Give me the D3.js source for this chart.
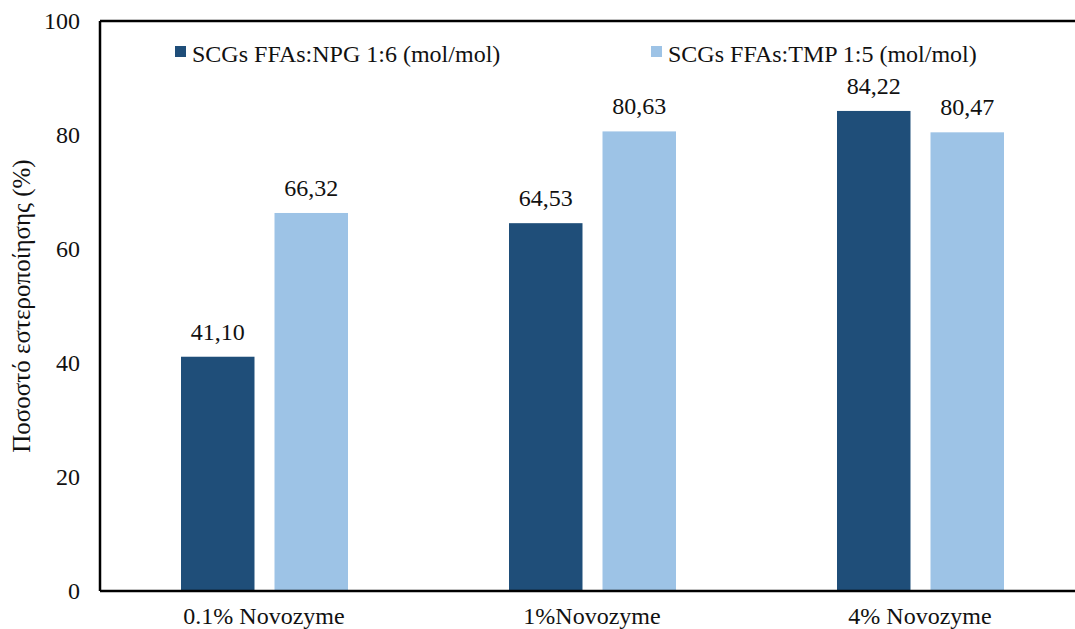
<!DOCTYPE html>
<html>
<head>
<meta charset="utf-8">
<script src="https://cdn.jsdelivr.net/npm/d3@7"></script>
<style>
  html, body { margin: 0; padding: 0; background: #fff; }
  svg { display: block; }
  svg text { font-family: 'Liberation Serif', 'Times New Roman', Times, serif !important; }
</style>
</head>
<body>
<svg id="chart" width="1075" height="629"></svg>
<script>
// Esterification yield per enzyme loading
const categories = ["0.1% Novozyme", "1%Novozyme", "4% Novozyme"];
const seriesNames = ["SCGs FFAs:NPG 1:6 (mol/mol)", "SCGs FFAs:TMP 1:5 (mol/mol)"];
const npgValues = [41.10, 64.53, 84.22];
const tmpValues = [66.32, 80.63, 80.47];
const yTicks = [0, 20, 40, 60, 80, 100];
const yTitle = "Ποσοστό εστεροποίησης (%)";

const colors = ["#1F4E79", "#9DC3E6"];
const serif = "'Liberation Serif', 'Times New Roman', serif";
const fontSize = 24;

const svg = d3.select("#chart");
const plotLeft = 100, plotTop = 21, plotBottom = 591, bandWidth = 328;
const plotRight = plotLeft + bandWidth * categories.length;

const x = d3.scaleBand().domain(categories).range([plotLeft, plotRight]).paddingInner(0).paddingOuter(0);
const inner = d3.scaleBand().domain([0, 1]).range([81, 248]).paddingInner(0.214).paddingOuter(0);
const y = d3.scaleLinear().domain([0, 100]).range([plotBottom, plotTop]);

const series = [npgValues, tmpValues];
const fmt = v => v.toFixed(2).replace(".", ",");

// bars and value labels
series.forEach((vals, si) => {
  const g = svg.append("g");
  g.selectAll("rect").data(vals).join("rect")
    .attr("x", (d, i) => x(categories[i]) + inner(si))
    .attr("y", d => y(d))
    .attr("width", inner.bandwidth())
    .attr("height", d => y(0) - y(d))
    .attr("fill", colors[si]);
  g.selectAll("text").data(vals).join("text")
    .attr("x", (d, i) => x(categories[i]) + inner(si) + inner.bandwidth() / 2)
    .attr("y", d => y(d) - 17)
    .attr("text-anchor", "middle")
    .attr("font-family", serif)
    .attr("font-size", fontSize)
    .attr("fill", "#111")
    .text(fmt);
});

// y axis
const yAxis = svg.append("g")
  .attr("transform", `translate(${plotLeft},0)`)
  .call(d3.axisLeft(y).tickValues(yTicks).tickSize(7).tickPadding(13).tickFormat(d3.format("d")))
  .attr("font-family", serif);
yAxis.select(".domain").attr("stroke", "#000").attr("stroke-width", 2.5).attr("d", `M0,${plotBottom}V${plotTop}`);
yAxis.selectAll(".tick line").attr("stroke", "#000").attr("stroke-width", 2).attr("x1", -7);
yAxis.selectAll(".tick text").attr("font-size", fontSize).attr("fill", "#111").attr("x", -20);

// top frame line
svg.append("line")
  .attr("x1", plotLeft).attr("x2", 1075).attr("y1", plotTop).attr("y2", plotTop)
  .attr("stroke", "#000").attr("stroke-width", 2.5);

// x axis
const xAxis = svg.append("g")
  .attr("transform", `translate(0,${plotBottom})`)
  .call(d3.axisBottom(x).tickSize(0).tickPadding(16))
  .attr("font-family", serif);
xAxis.select(".domain").attr("stroke", "#000").attr("stroke-width", 2.5).attr("d", `M${plotLeft},0H1075`);
xAxis.selectAll(".tick text").attr("font-size", fontSize).attr("fill", "#111");

// y axis title
svg.append("text")
  .attr("transform", `translate(30,${(plotTop + plotBottom) / 2}) rotate(-90)`)
  .attr("text-anchor", "middle")
  .attr("font-family", serif)
  .attr("font-size", 25)
  .attr("fill", "#111")
  .text(yTitle);

// legend
const legendX = [175, 651];
seriesNames.forEach((name, i) => {
  const g = svg.append("g").attr("transform", `translate(${legendX[i]},46)`);
  g.append("rect").attr("width", 11).attr("height", 11).attr("fill", colors[i]);
  g.append("text").attr("x", 17).attr("y", 16)
    .attr("font-family", serif)
    .attr("font-size", fontSize).attr("fill", "#111").text(name);
});
</script>
</body>
</html>
